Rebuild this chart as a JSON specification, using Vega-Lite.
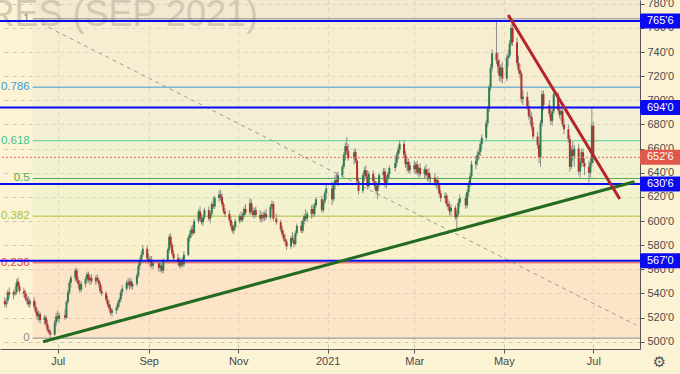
{
"$schema": "https://vega.github.io/schema/vega-lite/v6.json",
"width": 640, "height": 349,
"autosize": {"type": "none"},
"padding": {"left": 0, "top": 0, "right": 40, "bottom": 25},
"background": "#fcf2d4",
"config": {"view": {"stroke": null}, "font": "Liberation Sans", "text": {"font": "Liberation Sans"}, "axis": {"labelOverlap": false, "labelBound": false}},
"datasets": {
"zones": [
{"z":"a1","lo":767.5,"hi":790},{"z":"a","lo":710.9,"hi":767.5},{"z":"b","lo":666.5,"hi":710.9},{"z":"c","lo":635.25,"hi":666.5},{"z":"d","lo":604.04,"hi":635.25},{"z":"e","lo":565.42,"hi":604.04},{"z":"f","lo":503,"hi":565.42}],
"levels": [
{"lv":"1","v":767.5},{"lv":"0.786","v":710.9},{"lv":"0.618","v":666.5},{"lv":"0.5","v":635.25},{"lv":"0.382","v":604.04},{"lv":"0.236","v":565.42},{"lv":"0","v":503}],
"marks": [
{"p":765.75,"t":"765'6","k":"blue"},{"p":694,"t":"694'0","k":"blue"},{"p":630.75,"t":"630'6","k":"blue"},{"p":567,"t":"567'0","k":"blue"},{"p":652.75,"t":"652'6","k":"last"}],
"diag": [{"d":"2020-06-15","v":766.5},{"d":"2021-07-30","v":513.9}],
"green": [{"d":"2020-06-21","v":500.0},{"d":"2021-07-29","v":632.6}],
"red": [{"d":"2021-05-04","v":770.7},{"d":"2021-07-19","v":618.2}],
"k": [
{"d":"2020-05-26","o":534,"h":537,"l":529,"c":531},
{"d":"2020-05-27","o":531,"h":536,"l":528,"c":533},
{"d":"2020-05-28","o":534,"h":543,"l":532,"c":541},
{"d":"2020-05-29","o":541,"h":545,"l":536,"c":539},
{"d":"2020-06-01","o":539,"h":543,"l":535,"c":541},
{"d":"2020-06-02","o":541,"h":546,"l":538,"c":540},
{"d":"2020-06-03","o":541,"h":552,"l":539,"c":549},
{"d":"2020-06-04","o":550,"h":553,"l":544,"c":546},
{"d":"2020-06-05","o":546,"h":549,"l":540,"c":542},
{"d":"2020-06-08","o":542,"h":545,"l":537,"c":540},
{"d":"2020-06-09","o":540,"h":543,"l":534,"c":536},
{"d":"2020-06-10","o":536,"h":540,"l":531,"c":534},
{"d":"2020-06-11","o":534,"h":538,"l":529,"c":531},
{"d":"2020-06-12","o":531,"h":536,"l":528,"c":534},
{"d":"2020-06-15","o":534,"h":537,"l":527,"c":529},
{"d":"2020-06-16","o":529,"h":533,"l":523,"c":525},
{"d":"2020-06-17","o":525,"h":528,"l":518,"c":521},
{"d":"2020-06-18","o":521,"h":526,"l":517,"c":523},
{"d":"2020-06-19","o":523,"h":525,"l":515,"c":518},
{"d":"2020-06-22","o":518,"h":522,"l":514,"c":520},
{"d":"2020-06-23","o":520,"h":522,"l":512,"c":515},
{"d":"2020-06-24","o":515,"h":518,"l":508,"c":510},
{"d":"2020-06-25","o":510,"h":513,"l":506,"c":508},
{"d":"2020-06-26","o":508,"h":510,"l":503.5,"c":506},
{"d":"2020-06-29","o":506,"h":518,"l":505,"c":516},
{"d":"2020-06-30","o":516,"h":524,"l":513,"c":521},
{"d":"2020-07-01","o":521,"h":526,"l":517,"c":519},
{"d":"2020-07-02","o":519,"h":524,"l":516,"c":522},
{"d":"2020-07-06","o":522,"h":527,"l":518,"c":520},
{"d":"2020-07-07","o":520,"h":534,"l":519,"c":533},
{"d":"2020-07-08","o":533,"h":543,"l":531,"c":541},
{"d":"2020-07-09","o":541,"h":551,"l":539,"c":549},
{"d":"2020-07-10","o":549,"h":555,"l":545,"c":553},
{"d":"2020-07-13","o":553,"h":561,"l":550,"c":559},
{"d":"2020-07-14","o":559,"h":561,"l":549,"c":551},
{"d":"2020-07-15","o":551,"h":554,"l":545,"c":548},
{"d":"2020-07-16","o":548,"h":551,"l":541,"c":543},
{"d":"2020-07-17","o":543,"h":550,"l":541,"c":548},
{"d":"2020-07-20","o":548,"h":554,"l":545,"c":552},
{"d":"2020-07-21","o":552,"h":558,"l":549,"c":556},
{"d":"2020-07-22","o":556,"h":558,"l":549,"c":551},
{"d":"2020-07-23","o":551,"h":555,"l":547,"c":553},
{"d":"2020-07-24","o":553,"h":556,"l":548,"c":550},
{"d":"2020-07-27","o":550,"h":555,"l":547,"c":553},
{"d":"2020-07-28","o":553,"h":556,"l":549,"c":551},
{"d":"2020-07-29","o":551,"h":553,"l":545,"c":548},
{"d":"2020-07-30","o":548,"h":550,"l":540,"c":542},
{"d":"2020-07-31","o":542,"h":546,"l":538,"c":540},
{"d":"2020-08-03","o":540,"h":542,"l":533,"c":535},
{"d":"2020-08-04","o":535,"h":538,"l":529,"c":531},
{"d":"2020-08-05","o":531,"h":534,"l":526,"c":528},
{"d":"2020-08-06","o":528,"h":531,"l":522,"c":524},
{"d":"2020-08-07","o":524,"h":528,"l":521,"c":526},
{"d":"2020-08-10","o":526,"h":530,"l":523,"c":528},
{"d":"2020-08-11","o":528,"h":534,"l":526,"c":532},
{"d":"2020-08-12","o":532,"h":537,"l":529,"c":535},
{"d":"2020-08-13","o":535,"h":543,"l":533,"c":541},
{"d":"2020-08-14","o":541,"h":547,"l":538,"c":544},
{"d":"2020-08-17","o":544,"h":551,"l":542,"c":549},
{"d":"2020-08-18","o":549,"h":553,"l":545,"c":547},
{"d":"2020-08-19","o":547,"h":552,"l":543,"c":550},
{"d":"2020-08-20","o":550,"h":553,"l":544,"c":546},
{"d":"2020-08-21","o":546,"h":550,"l":543,"c":548},
{"d":"2020-08-24","o":548,"h":557,"l":546,"c":555},
{"d":"2020-08-25","o":555,"h":565,"l":553,"c":563},
{"d":"2020-08-26","o":563,"h":570,"l":560,"c":567},
{"d":"2020-08-27","o":567,"h":575,"l":565,"c":572},
{"d":"2020-08-28","o":572,"h":580,"l":570,"c":577},
{"d":"2020-08-31","o":577,"h":580,"l":567,"c":569},
{"d":"2020-09-01","o":569,"h":573,"l":564,"c":566},
{"d":"2020-09-02","o":566,"h":571,"l":562,"c":568},
{"d":"2020-09-03","o":568,"h":571,"l":561,"c":563},
{"d":"2020-09-04","o":563,"h":568,"l":560,"c":565},
{"d":"2020-09-08","o":565,"h":567,"l":558,"c":561},
{"d":"2020-09-09","o":561,"h":566,"l":558,"c":563},
{"d":"2020-09-10","o":563,"h":567,"l":556.5,"c":559},
{"d":"2020-09-11","o":559,"h":569,"l":557,"c":567},
{"d":"2020-09-14","o":567,"h":578,"l":565,"c":576},
{"d":"2020-09-15","o":576,"h":589,"l":574,"c":587},
{"d":"2020-09-16","o":587,"h":590,"l":578,"c":580},
{"d":"2020-09-17","o":580,"h":582,"l":571,"c":573},
{"d":"2020-09-18","o":573,"h":576,"l":566,"c":569},
{"d":"2020-09-21","o":569,"h":573,"l":563,"c":566},
{"d":"2020-09-22","o":566,"h":570,"l":561,"c":563},
{"d":"2020-09-23","o":563,"h":569,"l":561,"c":567},
{"d":"2020-09-24","o":567,"h":570,"l":562,"c":564},
{"d":"2020-09-25","o":564,"h":575,"l":562,"c":572},
{"d":"2020-09-28","o":572,"h":588,"l":571,"c":586},
{"d":"2020-09-29","o":586,"h":592,"l":583,"c":589},
{"d":"2020-09-30","o":589,"h":596,"l":586,"c":593},
{"d":"2020-10-01","o":593,"h":597,"l":588,"c":590},
{"d":"2020-10-02","o":590,"h":602,"l":589,"c":600},
{"d":"2020-10-05","o":600,"h":610,"l":598,"c":608},
{"d":"2020-10-06","o":608,"h":612,"l":600,"c":602},
{"d":"2020-10-07","o":602,"h":606,"l":597,"c":599},
{"d":"2020-10-08","o":599,"h":605,"l":596,"c":603},
{"d":"2020-10-09","o":603,"h":611,"l":601,"c":609},
{"d":"2020-10-12","o":609,"h":612,"l":600,"c":602},
{"d":"2020-10-13","o":602,"h":608,"l":598,"c":606},
{"d":"2020-10-14","o":606,"h":616,"l":604,"c":614},
{"d":"2020-10-15","o":614,"h":620,"l":610,"c":612},
{"d":"2020-10-16","o":612,"h":621,"l":610,"c":619},
{"d":"2020-10-19","o":619,"h":625,"l":616,"c":622},
{"d":"2020-10-20","o":622,"h":626,"l":617,"c":620},
{"d":"2020-10-21","o":620,"h":623,"l":612,"c":614},
{"d":"2020-10-22","o":614,"h":616,"l":606,"c":608},
{"d":"2020-10-23","o":608,"h":611,"l":603,"c":606},
{"d":"2020-10-26","o":606,"h":609,"l":599,"c":601},
{"d":"2020-10-27","o":601,"h":604,"l":594,"c":596},
{"d":"2020-10-28","o":596,"h":599,"l":590,"c":592},
{"d":"2020-10-29","o":592,"h":597,"l":589,"c":595},
{"d":"2020-10-30","o":595,"h":602,"l":593,"c":600},
{"d":"2020-11-02","o":600,"h":606,"l":598,"c":604},
{"d":"2020-11-03","o":604,"h":608,"l":599,"c":601},
{"d":"2020-11-04","o":601,"h":607,"l":599,"c":605},
{"d":"2020-11-05","o":605,"h":612,"l":603,"c":610},
{"d":"2020-11-06","o":610,"h":614,"l":605,"c":607},
{"d":"2020-11-09","o":607,"h":619,"l":605,"c":615},
{"d":"2020-11-10","o":615,"h":618,"l":606,"c":608},
{"d":"2020-11-11","o":608,"h":612,"l":603,"c":605},
{"d":"2020-11-12","o":605,"h":611,"l":602,"c":609},
{"d":"2020-11-13","o":609,"h":612,"l":603,"c":605},
{"d":"2020-11-16","o":605,"h":609,"l":599,"c":602},
{"d":"2020-11-17","o":602,"h":607,"l":599,"c":605},
{"d":"2020-11-18","o":605,"h":608,"l":600,"c":603},
{"d":"2020-11-19","o":603,"h":608,"l":600,"c":606},
{"d":"2020-11-20","o":606,"h":610,"l":601,"c":603},
{"d":"2020-11-23","o":603,"h":614,"l":601,"c":612},
{"d":"2020-11-24","o":612,"h":617,"l":609,"c":614},
{"d":"2020-11-25","o":614,"h":616,"l":600,"c":602},
{"d":"2020-11-27","o":602,"h":606,"l":597,"c":599},
{"d":"2020-11-30","o":599,"h":601,"l":591,"c":593},
{"d":"2020-12-01","o":593,"h":596,"l":587,"c":589},
{"d":"2020-12-02","o":589,"h":592,"l":583,"c":585},
{"d":"2020-12-03","o":585,"h":589,"l":580,"c":583},
{"d":"2020-12-04","o":583,"h":585,"l":576,"c":579},
{"d":"2020-12-07","o":579,"h":588,"l":577,"c":586},
{"d":"2020-12-08","o":586,"h":591,"l":582,"c":584},
{"d":"2020-12-09","o":584,"h":588,"l":578,"c":581},
{"d":"2020-12-10","o":581,"h":592,"l":580,"c":590},
{"d":"2020-12-11","o":590,"h":598,"l":588,"c":596},
{"d":"2020-12-14","o":596,"h":600,"l":590,"c":592},
{"d":"2020-12-15","o":592,"h":602,"l":590,"c":600},
{"d":"2020-12-16","o":600,"h":606,"l":597,"c":604},
{"d":"2020-12-17","o":604,"h":610,"l":600,"c":602},
{"d":"2020-12-18","o":602,"h":608,"l":599,"c":606},
{"d":"2020-12-21","o":606,"h":613,"l":602,"c":610},
{"d":"2020-12-22","o":610,"h":614,"l":603,"c":606},
{"d":"2020-12-23","o":606,"h":615,"l":604,"c":613},
{"d":"2020-12-24","o":613,"h":620,"l":611,"c":618},
{"d":"2020-12-28","o":618,"h":621,"l":607,"c":609},
{"d":"2020-12-29","o":609,"h":618,"l":607,"c":616},
{"d":"2020-12-30","o":616,"h":625,"l":614,"c":623},
{"d":"2020-12-31","o":623,"h":630,"l":618,"c":627},
{"d":"2021-01-04","o":627,"h":633,"l":613,"c":618},
{"d":"2021-01-05","o":618,"h":632,"l":616,"c":630},
{"d":"2021-01-06","o":630,"h":638,"l":626,"c":634},
{"d":"2021-01-07","o":634,"h":640,"l":630,"c":632},
{"d":"2021-01-08","o":632,"h":641,"l":629,"c":638},
{"d":"2021-01-11","o":638,"h":647,"l":636,"c":645},
{"d":"2021-01-12","o":645,"h":657,"l":643,"c":655},
{"d":"2021-01-13","o":655,"h":665,"l":650,"c":662},
{"d":"2021-01-14","o":662,"h":669.6,"l":655,"c":658},
{"d":"2021-01-15","o":658,"h":664,"l":650,"c":652},
{"d":"2021-01-19","o":652,"h":660,"l":647,"c":657},
{"d":"2021-01-20","o":657,"h":660,"l":648,"c":650},
{"d":"2021-01-21","o":650,"h":652,"l":630,"c":633},
{"d":"2021-01-22","o":633,"h":636,"l":622,"c":625},
{"d":"2021-01-25","o":625,"h":640,"l":623,"c":638},
{"d":"2021-01-26","o":638,"h":645,"l":633,"c":642},
{"d":"2021-01-27","o":642,"h":646,"l":635,"c":637},
{"d":"2021-01-28","o":637,"h":642,"l":626,"c":629},
{"d":"2021-01-29","o":629,"h":641,"l":627,"c":639},
{"d":"2021-02-01","o":639,"h":642,"l":630,"c":633},
{"d":"2021-02-02","o":633,"h":637,"l":626,"c":629},
{"d":"2021-02-03","o":629,"h":633,"l":622,"c":625},
{"d":"2021-02-04","o":625,"h":632,"l":618,"c":630},
{"d":"2021-02-05","o":630,"h":640,"l":628,"c":638},
{"d":"2021-02-08","o":638,"h":644,"l":633,"c":641},
{"d":"2021-02-09","o":641,"h":644,"l":628,"c":630},
{"d":"2021-02-10","o":630,"h":638,"l":627,"c":635},
{"d":"2021-02-11","o":635,"h":641,"l":632,"c":639},
{"d":"2021-02-12","o":639,"h":646,"l":636,"c":644},
{"d":"2021-02-16","o":644,"h":652,"l":641,"c":648},
{"d":"2021-02-17","o":648,"h":657,"l":645,"c":655},
{"d":"2021-02-18","o":655,"h":662,"l":651,"c":659},
{"d":"2021-02-19","o":659,"h":667,"l":656,"c":664},
{"d":"2021-02-22","o":664,"h":667,"l":652,"c":655},
{"d":"2021-02-23","o":655,"h":658,"l":644,"c":647},
{"d":"2021-02-24","o":647,"h":652,"l":641,"c":649},
{"d":"2021-02-25","o":649,"h":652,"l":640,"c":642},
{"d":"2021-02-26","o":642,"h":649,"l":639,"c":646},
{"d":"2021-03-01","o":646,"h":650,"l":640,"c":643},
{"d":"2021-03-02","o":643,"h":649,"l":639,"c":647},
{"d":"2021-03-03","o":647,"h":650,"l":638,"c":640},
{"d":"2021-03-04","o":640,"h":646,"l":636,"c":644},
{"d":"2021-03-05","o":644,"h":648,"l":637,"c":639},
{"d":"2021-03-08","o":639,"h":645,"l":635,"c":643},
{"d":"2021-03-09","o":643,"h":647,"l":636,"c":638},
{"d":"2021-03-10","o":638,"h":643,"l":633,"c":640},
{"d":"2021-03-11","o":640,"h":644,"l":632,"c":635},
{"d":"2021-03-12","o":635,"h":639,"l":630,"c":636},
{"d":"2021-03-15","o":636,"h":640,"l":629,"c":632},
{"d":"2021-03-16","o":632,"h":636,"l":627,"c":634},
{"d":"2021-03-17","o":634,"h":637,"l":626,"c":630},
{"d":"2021-03-18","o":630,"h":632,"l":621,"c":623},
{"d":"2021-03-19","o":623,"h":626,"l":616,"c":619},
{"d":"2021-03-22","o":619,"h":624,"l":615,"c":621},
{"d":"2021-03-23","o":621,"h":623,"l":612,"c":614},
{"d":"2021-03-24","o":614,"h":618,"l":609,"c":612},
{"d":"2021-03-25","o":612,"h":616,"l":605,"c":608},
{"d":"2021-03-26","o":608,"h":614,"l":604,"c":611},
{"d":"2021-03-29","o":611,"h":613,"l":601,"c":603},
{"d":"2021-03-30","o":603,"h":609,"l":594,"c":606},
{"d":"2021-03-31","o":606,"h":618,"l":604,"c":615},
{"d":"2021-04-01","o":615,"h":622,"l":612,"c":619},
{"d":"2021-04-05","o":619,"h":622,"l":610,"c":613},
{"d":"2021-04-06","o":613,"h":626,"l":611,"c":624},
{"d":"2021-04-07","o":624,"h":633,"l":620,"c":631},
{"d":"2021-04-08","o":631,"h":640,"l":628,"c":637},
{"d":"2021-04-09","o":637,"h":650,"l":635,"c":647},
{"d":"2021-04-12","o":647,"h":654,"l":643,"c":650},
{"d":"2021-04-13","o":650,"h":658,"l":646,"c":655},
{"d":"2021-04-14","o":655,"h":660,"l":651,"c":657},
{"d":"2021-04-15","o":657,"h":666,"l":654,"c":664},
{"d":"2021-04-16","o":664,"h":672,"l":659,"c":669},
{"d":"2021-04-19","o":669,"h":684,"l":667,"c":681},
{"d":"2021-04-20","o":681,"h":695,"l":678,"c":693},
{"d":"2021-04-21","o":693,"h":713,"l":690,"c":711},
{"d":"2021-04-22","o":711,"h":730,"l":708,"c":727},
{"d":"2021-04-23","o":727,"h":742,"l":724,"c":739},
{"d":"2021-04-26","o":739,"h":766.5,"l":730,"c":733},
{"d":"2021-04-27","o":733,"h":740,"l":722,"c":728},
{"d":"2021-04-28","o":728,"h":734,"l":716,"c":720},
{"d":"2021-04-29","o":720,"h":730,"l":715,"c":727},
{"d":"2021-04-30","o":727,"h":732,"l":714,"c":718},
{"d":"2021-05-03","o":718,"h":738,"l":716,"c":735},
{"d":"2021-05-04","o":735,"h":742,"l":728,"c":737},
{"d":"2021-05-05","o":737,"h":750,"l":735,"c":747},
{"d":"2021-05-06","o":747,"h":763,"l":745,"c":760},
{"d":"2021-05-07","o":760,"h":766,"l":745,"c":748},
{"d":"2021-05-10","o":748,"h":752,"l":728,"c":731},
{"d":"2021-05-11","o":731,"h":737,"l":722,"c":725},
{"d":"2021-05-12","o":725,"h":730,"l":718,"c":722},
{"d":"2021-05-13","o":722,"h":724,"l":698,"c":701},
{"d":"2021-05-14","o":701,"h":708,"l":696,"c":703},
{"d":"2021-05-17","o":703,"h":707,"l":692,"c":695},
{"d":"2021-05-18","o":695,"h":700,"l":684,"c":687},
{"d":"2021-05-19","o":687,"h":692,"l":680,"c":686},
{"d":"2021-05-20","o":686,"h":690,"l":675,"c":678},
{"d":"2021-05-21","o":678,"h":682,"l":668,"c":670},
{"d":"2021-05-24","o":670,"h":674,"l":660,"c":663},
{"d":"2021-05-25","o":663,"h":665,"l":648,"c":653},
{"d":"2021-05-26","o":653,"h":684,"l":645,"c":681},
{"d":"2021-05-27","o":681,"h":708,"l":678,"c":705},
{"d":"2021-05-28","o":705,"h":708,"l":692,"c":696},
{"d":"2021-06-01","o":696,"h":700,"l":686,"c":689},
{"d":"2021-06-02","o":689,"h":695,"l":680,"c":683},
{"d":"2021-06-03","o":683,"h":693,"l":679,"c":691},
{"d":"2021-06-04","o":691,"h":708.5,"l":689,"c":705},
{"d":"2021-06-07","o":705,"h":707,"l":690,"c":692},
{"d":"2021-06-08","o":692,"h":697,"l":685,"c":688},
{"d":"2021-06-09","o":688,"h":694,"l":683,"c":691},
{"d":"2021-06-10","o":691,"h":693,"l":678,"c":680},
{"d":"2021-06-11","o":680,"h":685,"l":672,"c":676},
{"d":"2021-06-14","o":676,"h":680,"l":665,"c":668},
{"d":"2021-06-15","o":668,"h":671,"l":640.6,"c":645},
{"d":"2021-06-16","o":645,"h":662,"l":643,"c":659},
{"d":"2021-06-17","o":659,"h":666,"l":650,"c":654},
{"d":"2021-06-18","o":654,"h":663,"l":645,"c":660},
{"d":"2021-06-21","o":660,"h":664,"l":638,"c":641},
{"d":"2021-06-22","o":641,"h":652,"l":636,"c":649},
{"d":"2021-06-23","o":649,"h":660,"l":645,"c":657},
{"d":"2021-06-24","o":657,"h":660,"l":645,"c":648},
{"d":"2021-06-25","o":648,"h":652,"l":638,"c":645},
{"d":"2021-06-28","o":645,"h":650,"l":632,"c":640},
{"d":"2021-06-29","o":640,"h":652,"l":636,"c":648},
{"d":"2021-06-30","o":648,"h":693.6,"l":645,"c":679},
{"d":"2021-07-01","o":679,"h":682,"l":648,"c":652.75}
]
},
"resolve": {"scale": {"color": "independent"}},
"layer": [
{
"data": {"name": "zones"},
"mark": {"type": "rect", "opacity": 0.5, "clip": true},
"encoding": {
"x": {"datum": {"year": 2020, "month": 6, "date": 14, "utc": true}, "type": "temporal", "title": null},
"x2": {"datum": {"year": 2021, "month": 8, "date": 1, "hours": 19, "utc": true}},
"y": {"field": "lo", "type": "quantitative", "title": null},
"y2": {"field": "hi"},
"color": {"field": "z", "type": "nominal", "legend": null,
"scale": {"domain": ["a1","a","b","c","d","e","f"], "range": ["#e9dfcb","#f1e9cf","#e7ebd3","#e7efcf","#e9f1c7","#f3efc1","#f9d5b9"]}}
}
},
{
"data": {"values": [{"w": "WHEAT FUTURES (SEP 2021)"}]},
"mark": {"type": "text", "align": "right", "baseline": "alphabetic", "fontSize": 36, "font": "Liberation Sans", "color": "#d3c9b3"},
"encoding": {
"x": {"datum": {"year": 2020, "month": 11, "date": 14, "hours": 12, "utc": true}, "type": "temporal", "title": null},
"y": {"datum": 761.5, "type": "quantitative", "title": null},
"text": {"field": "w"}
}
},
{
"data": {"name": "levels"},
"mark": {"type": "rule", "strokeWidth": 1},
"encoding": {
"x": {"datum": {"year": 2020, "month": 6, "date": 14, "utc": true}, "type": "temporal", "title": null},
"x2": {"datum": {"year": 2021, "month": 8, "date": 1, "hours": 19, "utc": true}},
"y": {"field": "v", "type": "quantitative", "title": null},
"color": {"field": "lv", "type": "nominal", "legend": null,
"scale": {"domain": ["1","0.786","0.618","0.5","0.382","0.236","0"], "range": ["#8c8c8c","#3d9bd6","#4cd199","#4caf50","#a6c33f","#e8453c","#8c8c8c"]}}
}
},
{
"data": {"name": "levels"},
"mark": {"type": "text", "align": "right", "baseline": "middle", "dx": -3, "fontSize": 11.5, "font": "Liberation Sans"},
"encoding": {
"x": {"datum": {"year": 2020, "month": 6, "date": 14, "utc": true}, "type": "temporal", "title": null},
"y": {"field": "v", "type": "quantitative", "title": null},
"text": {"field": "lv"},
"color": {"field": "lv", "type": "nominal", "legend": null,
"scale": {"domain": ["1","0.786","0.618","0.5","0.382","0.236","0"], "range": ["#8c8c8c","#3d9bd6","#3fc88e","#4caf50","#a6c33f","#e8453c","#8c8c8c"]}}
}
},
{
"data": {"name": "diag"},
"mark": {"type": "line", "color": "#9a9a9a", "strokeWidth": 1, "strokeDash": [4, 4]},
"encoding": {
"x": {"field": "d", "type": "temporal", "title": null},
"y": {"field": "v", "type": "quantitative", "title": null}
}
},
{
"data": {"name": "k"},
"mark": {"type": "rule", "color": "#8c8c8c", "strokeWidth": 1},
"encoding": {
"x": {"field": "d", "type": "temporal", "title": null,
"scale": {"type": "utc", "domain": [{"year": 2020, "month": 5, "date": 22, "hours": 17, "utc": true}, {"year": 2021, "month": 8, "date": 1, "hours": 19, "utc": true}], "nice": false, "padding": 0},
"axis": {"orient": "bottom", "values": [{"year": 2020, "month": 7, "date": 1, "utc": true}, {"year": 2020, "month": 9, "date": 1, "utc": true}, {"year": 2020, "month": 11, "date": 1, "utc": true}, {"year": 2021, "month": 1, "date": 1, "utc": true}, {"year": 2021, "month": 3, "date": 1, "utc": true}, {"year": 2021, "month": 5, "date": 1, "utc": true}, {"year": 2021, "month": 7, "date": 1, "utc": true}],
"tickCount": 30,
"labelExpr": "utcFormat(datum.value, '%m') == '01' ? utcFormat(datum.value, '%Y') : utcFormat(datum.value, '%b')",
"grid": true, "gridDash": [4, 4], "gridColor": "#cfc7b2", "gridWidth": 1,
"domainColor": "#555555", "tickColor": "#555555", "tickSize": 4, "labelPadding": 2,
"labelColor": "#4a4a4a", "labelFontSize": 11, "labelFont": "Liberation Sans", "labelFlush": false, "labelOverlap": false, "title": null}},
"y": {"field": "l", "type": "quantitative", "title": null,
"scale": {"domain": [494.0, 783.1], "nice": false, "zero": false, "padding": 0},
"axis": {"orient": "right", "values": [500,520,540,560,580,600,620,640,660,680,700,720,740,760,780],
"tickCount": 30,
"labelExpr": "format(datum.value, 'd') + \"'0\"",
"grid": true, "gridDash": [4, 4], "gridColor": "#cfc7b2", "gridWidth": 1,
"domainColor": "#555555", "tickColor": "#555555", "tickSize": 4, "labelPadding": 3,
"labelColor": "#4a4a4a", "labelFontSize": 11, "labelFont": "Liberation Sans", "labelOverlap": false, "labelBound": false, "labelFlush": false, "title": null}},
"y2": {"field": "h"}
}
},
{
"data": {"name": "k"},
"mark": {"type": "bar", "size": 2},
"encoding": {
"x": {"field": "d", "type": "temporal", "title": null},
"y": {"field": "o", "type": "quantitative", "title": null},
"y2": {"field": "c"},
"color": {"condition": {"test": "datum.c >= datum.o", "value": "#2e7d4e"}, "value": "#b5302b"}
}
},
{
"data": {"name": "marks"},
"transform": [{"filter": "datum.k == 'blue'"}],
"mark": {"type": "rule", "color": "#0b0bf2", "strokeWidth": 2},
"encoding": {
"y": {"field": "p", "type": "quantitative", "title": null}
}
},
{
"data": {"name": "marks"},
"transform": [{"filter": "datum.k == 'last'"}],
"mark": {"type": "rule", "color": "#e8675c", "strokeWidth": 1, "strokeDash": [2, 2]},
"encoding": {
"y": {"field": "p", "type": "quantitative", "title": null}
}
},
{
"data": {"name": "green"},
"mark": {"type": "line", "color": "#236b21", "strokeWidth": 3},
"encoding": {
"x": {"field": "d", "type": "temporal", "title": null},
"y": {"field": "v", "type": "quantitative", "title": null}
}
},
{
"data": {"name": "red"},
"mark": {"type": "line", "color": "#b5242a", "strokeWidth": 3},
"encoding": {
"x": {"field": "d", "type": "temporal", "title": null},
"y": {"field": "v", "type": "quantitative", "title": null}
}
},
{
"data": {"name": "marks"},
"mark": {"type": "rect", "yOffset": -7.5, "y2Offset": 7.5, "cornerRadius": 2},
"encoding": {
"x": {"datum": {"year": 2021, "month": 8, "date": 1, "hours": 19, "utc": true}, "type": "temporal", "title": null},
"x2": {"datum": {"year": 2021, "month": 8, "date": 30, "utc": true}},
"y": {"field": "p", "type": "quantitative", "title": null},
"y2": {"field": "p"},
"color": {"field": "k", "type": "nominal", "legend": null, "scale": {"domain": ["blue", "last"], "range": ["#0b0bf2", "#e0584c"]}}
}
},
{
"data": {"name": "marks"},
"mark": {"type": "text", "align": "left", "baseline": "middle", "dx": 7, "fontSize": 11, "font": "Liberation Sans", "color": "#ffffff"},
"encoding": {
"x": {"datum": {"year": 2021, "month": 8, "date": 1, "hours": 19, "utc": true}, "type": "temporal", "title": null},
"y": {"field": "p", "type": "quantitative", "title": null},
"text": {"field": "t"}
}
},
{
"data": {"values": [{"g": "⚙"}]},
"mark": {"type": "text", "align": "center", "baseline": "middle", "fontSize": 15, "font": "DejaVu Sans", "color": "#555555"},
"encoding": {
"x": {"datum": {"year": 2021, "month": 8, "date": 15, "utc": true}, "type": "temporal", "title": null},
"y": {"datum": 483.2, "type": "quantitative", "title": null},
"text": {"field": "g"}
}
}
]
}
